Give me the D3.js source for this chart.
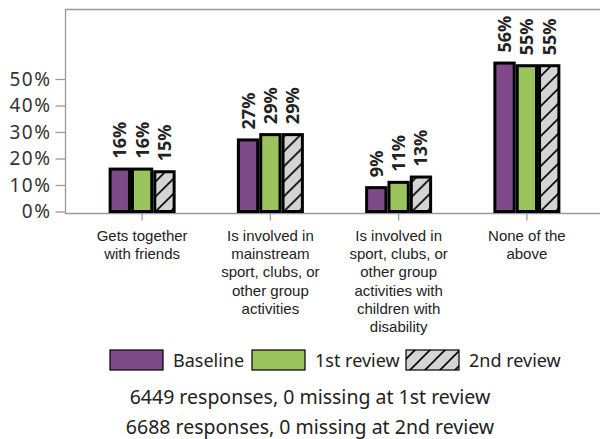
<!DOCTYPE html>
<html><head><meta charset="utf-8">
<script src="https://cdn.jsdelivr.net/npm/d3@7"></script>
<style>body{margin:0;background:#fff}svg{display:block}</style>
</head><body>
<svg id="c" width="600" height="439"></svg>
<script>
const categories = [
  ["Gets together", "with friends"],
  ["Is involved in", "mainstream", "sport, clubs, or", "other group", "activities"],
  ["Is involved in", "sport, clubs, or", "other group", "activities with", "children with", "disability"],
  ["None of the", "above"]
];
const seriesNames = ["Baseline", "1st review", "2nd review"];
const baseline = [0.16, 0.27, 0.09, 0.56];
const review1 = [0.16, 0.29, 0.11, 0.55];
const review2 = [0.15, 0.29, 0.13, 0.55];
const yTicks = [0, 0.1, 0.2, 0.3, 0.4, 0.5];
const notes = ["6449 responses, 0 missing at 1st review", "6688 responses, 0 missing at 2nd review"];

const series = [baseline, review1, review2];
const fills = ["#7f4a88", "#9bc45f", "url(#hatch)"];

const svg = d3.select("#c");
const defs = svg.append("defs");
const pat = defs.append("pattern").attr("id", "hatch").attr("patternUnits", "userSpaceOnUse")
  .attr("width", 15).attr("height", 15);
pat.append("rect").attr("width", 15).attr("height", 15).attr("fill", "#d4d4d4");
pat.append("path").attr("d", "M-4,4 L4,-4 M0,15 L15,0 M11,19 L19,11").attr("stroke", "#000").attr("stroke-width", 1.6);

const y = d3.scaleLinear().domain([0, 0.764]).range([211.5, 9]);
const x = d3.scaleBand().domain(d3.range(categories.length)).range([78, 591]);
const xi = d3.scaleBand().domain(d3.range(3)).range([-33.5, 33.5]);

// frame
svg.append("path").attr("d", "M600,9.5 H65.5 V213.5 H600").attr("fill", "none").attr("stroke", "#9a9a9a").attr("stroke-width", 1.3);

// y axis
const yAxis = svg.append("g").attr("transform", "translate(65.5,0)")
  .call(d3.axisLeft(y).tickValues(yTicks).tickFormat(d3.format(".0%")).tickSize(10).tickPadding(4));
yAxis.select(".domain").remove();
yAxis.selectAll("line").attr("stroke", "#9a9a9a").attr("stroke-width", 1.3);
yAxis.selectAll("text").attr("font-family", "Noto Sans").attr("font-size", 19)
  .attr("letter-spacing", 1.5).attr("fill", "#333");

// x ticks
const xAxis = svg.append("g").attr("transform", "translate(0,213.5)")
  .call(d3.axisBottom(x).tickSize(7).tickFormat(""));
xAxis.select(".domain").remove();
xAxis.selectAll("line").attr("stroke", "#9a9a9a").attr("stroke-width", 1.3);

// bars
const groups = svg.append("g").selectAll("g").data(categories).join("g")
  .attr("transform", (d, i) => `translate(${x(i) + x.bandwidth() / 2},0)`);
series.forEach((s, k) => {
  groups.append("rect")
    .attr("x", xi(k) + 1.5)
    .attr("width", xi.bandwidth() - 3)
    .attr("y", (d, i) => y(s[i]))
    .attr("height", (d, i) => 211.5 - y(s[i]))
    .attr("fill", fills[k])
    .attr("stroke", "#000").attr("stroke-width", 3);
  groups.append("text")
    .attr("transform", (d, i) => `translate(${xi(k) + xi.bandwidth() / 2 + 6.5},${y(s[i]) - 10.5}) rotate(-90)`)
    .attr("font-family", "Noto Sans").attr("font-weight", "bold").attr("font-size", 18)
    .attr("fill", "#222")
    .text((d, i) => d3.format(".0%")(s[i]));
});

// category labels
groups.each(function(d) {
  const t = d3.select(this).append("text").attr("text-anchor", "middle")
    .attr("font-family", "Liberation Sans").attr("font-size", 15).attr("fill", "#222");
  d.forEach((line, j) => t.append("tspan").attr("x", 0).attr("y", 241 + j * 18.2).text(line));
});

// legend
const legX = [110, 252, 406];
const leg = svg.append("g");
seriesNames.forEach((n, k) => {
  leg.append("rect").attr("x", legX[k]).attr("y", 350).attr("width", 53).attr("height", 20)
    .attr("fill", fills[k]).attr("stroke", "#000").attr("stroke-width", 1.2);
  leg.append("text").attr("x", legX[k] + 63).attr("y", 367).attr("font-family", "Noto Sans")
    .attr("font-size", 18).attr("fill", "#222").text(n);
});

// notes
notes.forEach((n, j) => {
  svg.append("text").attr("x", 310).attr("y", 404 + j * 30).attr("text-anchor", "middle")
    .attr("font-family", "Noto Sans").attr("font-size", 19.5).attr("fill", "#222").text(n);
});
</script>
</body></html>
